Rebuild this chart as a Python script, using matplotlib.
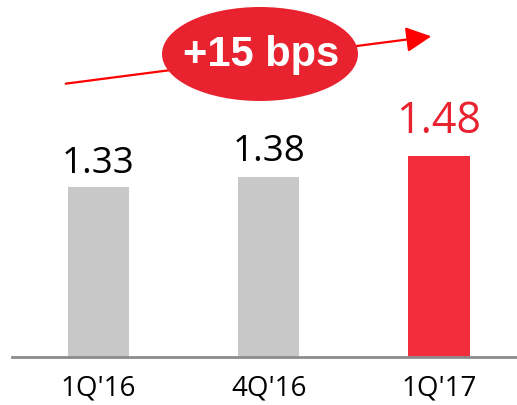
import matplotlib.pyplot as plt
from matplotlib.patches import Ellipse, FancyArrowPatch

# data
quarters = ["1Q'16", "4Q'16", "1Q'17"]
values = [1.33, 1.38, 1.48]
bar_colors = ['#c8c8c8', '#c8c8c8', '#f22d3b']
label_colors = ['black', 'black', '#e8232f']
label_sizes = [26.5, 26.5, 31]
badge_text = '+15 bps'

W, H = 517, 405
plt.rcParams['font.family'] = ['Open Sans', 'DejaVu Sans']
fig = plt.figure(figsize=(W / 100, H / 100), dpi=100)

# axes: baseline ~356px from top, line starts at x=12
ax = fig.add_axes([12 / W, 48.5 / H, 1 - 12 / W, 1 - 48.5 / H])
x = range(len(quarters))
ax.bar(x, values, width=0.36, color=bar_colors, zorder=2)
ax.set_xlim(-0.508, 2.458)
ax.set_ylim(0.51, 0.51 + 356.5 / 206.7)

for s in ['top', 'right', 'left']:
    ax.spines[s].set_visible(False)
ax.spines['bottom'].set_color('#8c8c8c')
ax.spines['bottom'].set_linewidth(2)
ax.set_yticks([])
ax.set_xticks(list(x))
ax.set_xticklabels(quarters, fontsize=20)
ax.tick_params(axis='x', length=0, pad=13)

# gap (points) between bar top and label baseline
pads = [10, 11.3, 16.5]
for i, v in enumerate(values):
    ax.annotate(f'{v:.2f}', xy=(i, v), xytext=(0, pads[i]), textcoords='offset points',
                ha='center', va='baseline', fontsize=label_sizes[i], color=label_colors[i])

# arrow behind the badge
arrow = FancyArrowPatch((63 / W, 1 - 84 / H), (434 / W, 1 - 36 / H),
                        transform=fig.transFigure, arrowstyle='-|>,head_length=1.1,head_width=0.55',
                        mutation_scale=14, color='#ff0000', lw=1.6)
fig.add_artist(arrow)

badge = Ellipse((260 / W, 1 - 54 / H), 196 / W, 94 / H, transform=fig.transFigure,
                facecolor='#e8232f', edgecolor='none')
fig.add_artist(badge)
fig.text(261 / W, 1 - 55 / H, badge_text, ha='center', va='center', color='white',
         fontsize=30, fontweight='bold', family=['Liberation Sans', 'DejaVu Sans'])

plt.savefig('out.png', dpi=100)
